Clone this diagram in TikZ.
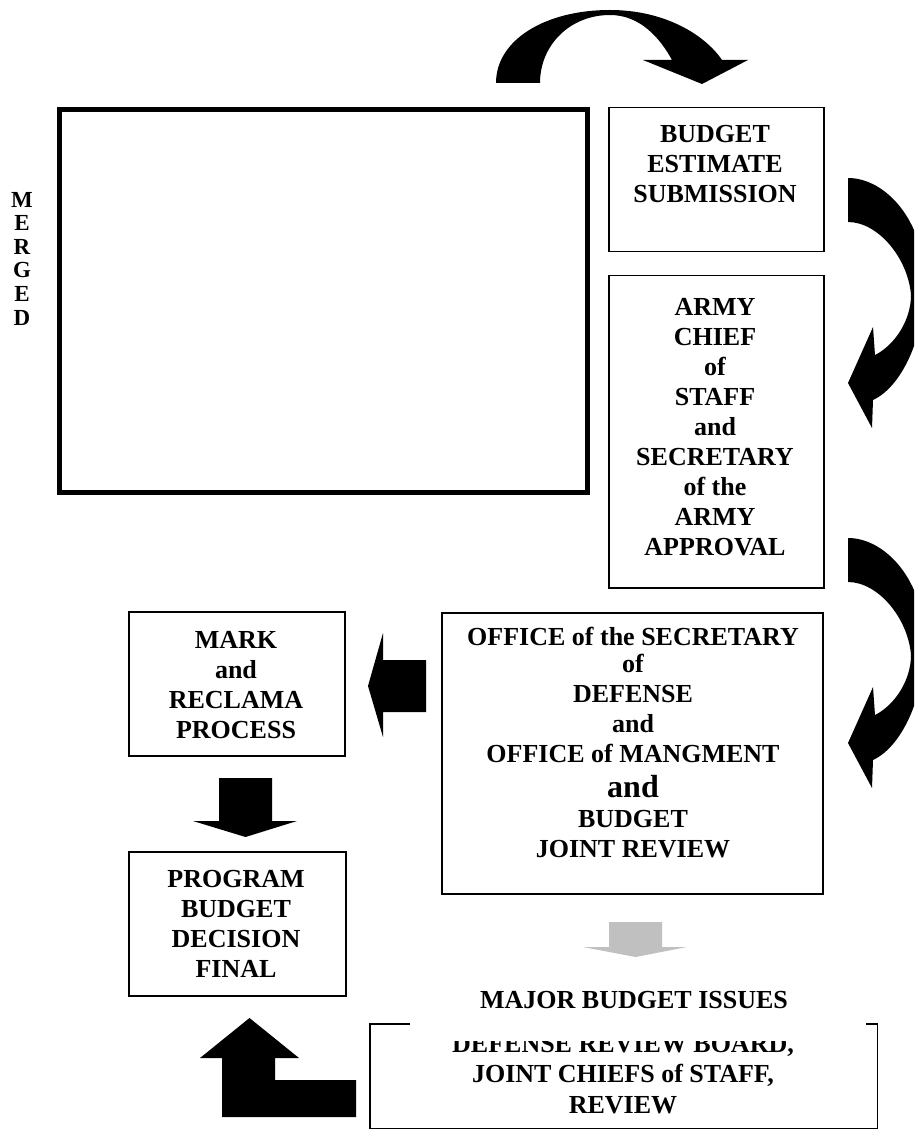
\documentclass[tikz,border=0pt]{standalone}
\usepackage{fontspec}
\setmainfont{Liberation Serif}
\definecolor{lgray}{RGB}{192,192,192}
\begin{document}
\begin{tikzpicture}[x=1pt,y=-1pt,
  box/.style={draw,line width=1.5pt,inner sep=0pt,anchor=north west},
  lbl/.style={font=\fontsize{26}{30}\selectfont\bfseries,inner sep=0pt,align=center,anchor=north},
  blockarrow/.style={fill=black,draw=none},
  greyarrow/.style={fill=lgray,draw=none},
]
\useasboundingbox (0,0) rectangle (914,1139);
\clip (0,0) rectangle (914,1139);

% boxes
\node[draw,line width=5pt,inner sep=0pt,anchor=north west,minimum width=528pt,minimum height=382pt] (merged) at (56.5,107.5) {};
\node[box,minimum width=215pt,minimum height=144pt] (budget) at (608,107) {};
\node[box,minimum width=215pt,minimum height=312pt] (army) at (608,275) {};
\node[box,minimum width=381pt,minimum height=281pt] (osd) at (441,612) {};
\node[box,minimum width=216pt,minimum height=144pt] (mark) at (128,611) {};
\node[box,minimum width=217pt,minimum height=144pt] (program) at (128,851) {};
\node[inner sep=0pt,anchor=north west,minimum width=507pt,minimum height=104pt] (review) at (370,1024) {};
\draw[line width=1.5pt] ([xshift=40pt]review.north west) -- (review.north west) -- (review.south west)
  -- (review.south east) -- (review.north east) -- ([xshift=-11pt]review.north east);

% texts
\node[lbl,font=\fontsize{23}{23.6}\selectfont\bfseries] (mergedtext) at (22,191.8) {M\\E\\R\\G\\E\\D};
\node[lbl] (budgettext) at (715,124.8) {BUDGET\\ESTIMATE\\SUBMISSION};
\node[lbl] (armytext) at (715,297.8) {ARMY\\CHIEF\\of\\STAFF\\and\\SECRETARY\\of the\\ARMY\\APPROVAL};
\node[lbl] (osdtext) at (633,627) {OFFICE of the SECRETARY\\[-3pt]of\\DEFENSE\\and\\OFFICE of MANGMENT\\[5pt]{\fontsize{32}{30}\selectfont and}\\BUDGET\\JOINT REVIEW};
\node[lbl] (marktext) at (236,630.8) {MARK\\and\\RECLAMA\\PROCESS};
\node[lbl] (progtext) at (236,869.8) {PROGRAM\\BUDGET\\DECISION\\FINAL};
\node[font=\fontsize{26}{30}\selectfont\bfseries,inner sep=0pt,anchor=base] (issues) at (634,1008) {MAJOR BUDGET ISSUES};
\begin{scope}
  \clip (360,1041) rectangle (890,1135);
  \node[lbl,font=\fontsize{26}{30.5}\selectfont\bfseries] (reviewtext) at (623,1034.8) {DEFENSE REVIEW BOARD,\\JOINT CHIEFS of STAFF,\\REVIEW};
\end{scope}

% top curved arrow
\fill[blockarrow] (496,83) .. controls (496,40) and (545,10) .. (610,10)
  .. controls (665,10) and (705,35) .. (722,60) -- (748,60) -- (702,84) -- (643,60) -- (672,60)
  .. controls (660,38) and (640,15) .. (610,15)
  .. controls (570,15) and (540,45) .. (540,83) -- cycle;

% right curved arrows
\foreach \dy in {0,360}{
  \fill[blockarrow,shift={(0,\dy)}] (848,178) .. controls (885,178) and (925,220) .. (925,285)
    .. controls (925,330) and (905,385) .. (873,400) -- (872,428) -- (848,383) -- (873,327) -- (875,355)
    .. controls (895,345) and (911,320) .. (911,295)
    .. controls (908,258) and (878,222) .. (848,222) -- cycle;
}

% left arrow (OSD -> Mark)
\fill[blockarrow] (426,660) -- (426,712) -- (383,712) -- (383,737) -- (368,686) -- (383,633) -- (383,660) -- cycle;
% down arrow (Mark -> Program)
\fill[blockarrow] (219,778) -- (272,778) -- (272,821) -- (297,821) -- (245.5,837) -- (193,821) -- (219,821) -- cycle;
% grey down arrow
\fill[greyarrow] (609,922) -- (662,922) -- (662,947) -- (687,947) -- (635.5,957) -- (583,947) -- (609,947) -- cycle;
% L-shaped up arrow
\fill[blockarrow] (356,1080) -- (356,1117) -- (222,1117) -- (222,1058) -- (200,1058) -- (249.5,1018)
  -- (299,1058) -- (275,1058) -- (275,1080) -- cycle;
\end{tikzpicture}
\end{document}
